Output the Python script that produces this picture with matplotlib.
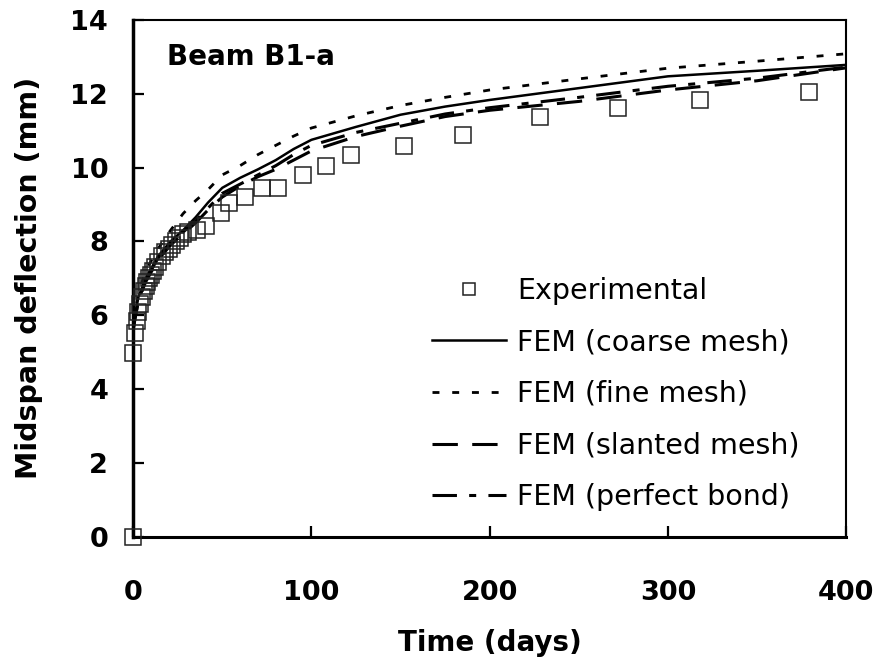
import numpy as np
import matplotlib
matplotlib.use("Agg")
import matplotlib.pyplot as plt

# experimental midspan deflection (mm) vs time (days)
t_exp = [0, 0, 1, 2, 3, 4, 5, 6, 7, 8, 9, 10, 11, 12, 14, 16, 18, 20, 22, 24, 26, 28,
         31, 36, 41, 49, 54, 63, 72, 81, 95, 108, 122, 152, 185, 228, 272, 318, 379]
d_exp = [0.0, 4.98, 5.52, 5.85, 6.1, 6.3, 6.5, 6.65, 6.8, 6.9, 7.0, 7.1, 7.2, 7.3, 7.45, 7.6,
         7.7, 7.8, 7.9, 8.0, 8.1, 8.2, 8.25, 8.3, 8.42, 8.77, 9.03, 9.2, 9.44, 9.44, 9.8,
         10.03, 10.34, 10.57, 10.87, 11.38, 11.62, 11.82, 12.04]

# FEM predictions
t_fem = [0, 1, 3, 7, 14, 21, 28, 35, 42, 50, 60, 70, 80, 90, 100, 125, 150, 175, 200,
         250, 300, 350, 400]
d_coarse = [5.7, 6.0, 6.5, 7.0, 7.6, 8.0, 8.3, 8.65, 9.05, 9.45, 9.72, 9.95, 10.2, 10.5,
            10.75, 11.1, 11.43, 11.65, 11.83, 12.15, 12.47, 12.62, 12.78]
d_fine = [5.8, 6.1, 6.6, 7.2, 7.8, 8.3, 8.75, 9.1, 9.4, 9.8, 10.05, 10.35, 10.6, 10.85,
          11.07, 11.4, 11.68, 11.9, 12.1, 12.4, 12.69, 12.88, 13.08]
d_slanted = [5.6, 5.9, 6.4, 6.9, 7.5, 7.9, 8.2, 8.5, 8.85, 9.2, 9.5, 9.75, 9.95, 10.2,
             10.45, 10.84, 11.12, 11.38, 11.55, 11.79, 12.1, 12.35, 12.7]
d_perfect = [5.6, 5.9, 6.4, 6.95, 7.55, 7.95, 8.25, 8.55, 8.9, 9.3, 9.55, 9.8, 10.05,
             10.35, 10.6, 10.95, 11.2, 11.45, 11.62, 11.9, 12.2, 12.42, 12.72]

fig = plt.figure(figsize=(8.76, 6.61), dpi=100)
ax = fig.add_axes([0.152, 0.188, 0.814, 0.782])

ax.plot(t_exp, d_exp, ls="none", marker="s", ms=11.5, mfc="none", mec="#222222",
        mew=1.1, clip_on=False, zorder=3, label="Experimental")
ax.plot(t_fem, d_coarse, color="k", lw=1.8, label="FEM (coarse mesh)")
ax.plot(t_fem, d_fine, color="k", lw=2.0, dashes=(2.5, 4.6), label="FEM (fine mesh)")
ax.plot(t_fem, d_slanted, color="k", lw=2.2, dashes=(8.3, 4.7), label="FEM (slanted mesh)")
ax.plot(t_fem, d_perfect, color="k", lw=2.2, dashes=(8.0, 4.0, 2.3, 4.0),
        label="FEM (perfect bond)")

ax.set_xlim(0, 400)
ax.set_ylim(0, 14)
ax.set_xticks(np.arange(0, 401, 100))
ax.set_yticks(np.arange(0, 15, 2))

for s in ax.spines.values():
    s.set_linewidth(1.5)
ax.spines["left"].set_linewidth(2.5)
ax.spines["bottom"].set_linewidth(2.2)

ax.tick_params(axis="both", direction="in", length=8, width=1.6, labelsize=19.5)
ax.tick_params(axis="x", pad=31)
ax.tick_params(axis="y", pad=18)
for lab in ax.get_xticklabels() + ax.get_yticklabels():
    lab.set_fontweight("bold")

ax.set_xlabel("Time (days)", fontsize=20, fontweight="bold", labelpad=17)
ax.set_ylabel("Midspan deflection (mm)", fontsize=20.5, fontweight="bold", labelpad=20)

ax.text(0.047, 0.928, "Beam B1-a", transform=ax.transAxes, fontsize=20,
        fontweight="bold", va="center", ha="left")

leg = ax.legend(loc="upper left", bbox_to_anchor=(0.419, 0.503), frameon=False,
                fontsize=20.5, handlelength=2.6, handletextpad=0.39, labelspacing=0.83,
                borderpad=0, borderaxespad=0, markerscale=0.75)

fig.savefig("out.png", dpi=100)
